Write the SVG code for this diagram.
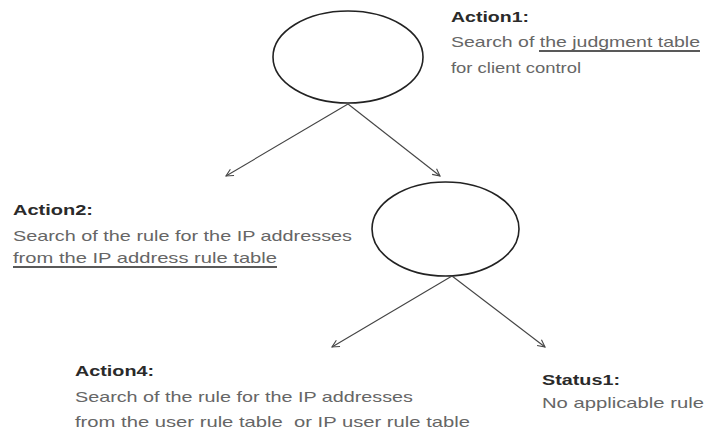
<svg xmlns="http://www.w3.org/2000/svg" width="712" height="432" viewBox="0 0 712 432">
<style>
.node{fill:none;stroke:#222;stroke-width:1.6}
.conn line{stroke:#444;stroke-width:1.1;fill:none}
.h{font-family:"Liberation Sans",Arial,sans-serif;font-weight:bold;font-size:14px;fill:#2a2a2a}
.b{font-family:"Liberation Sans",Arial,sans-serif;font-size:14.5px;fill:#666}
.ul{stroke:#222;stroke-width:1.3}
</style>
<defs>
<marker id="arr" viewBox="0 0 10 10" refX="9" refY="5" markerWidth="9" markerHeight="9" orient="auto" markerUnits="userSpaceOnUse">
<path d="M1,1 L9,5 L1,9" fill="none" stroke="#444" stroke-width="1.2"/>
</marker>
</defs>
<rect width="712" height="432" fill="#fff"/>
<g id="root">
<ellipse class="node" cx="348" cy="57" rx="75" ry="46"/>
</g>
<g id="mid">
<ellipse class="node" cx="445.5" cy="229" rx="73.5" ry="47"/>
</g>
<g class="conn" id="connectors">
<line x1="348" y1="104" x2="226" y2="176" marker-end="url(#arr)"/>
<line x1="348" y1="104" x2="440" y2="176" marker-end="url(#arr)"/>
<line x1="452" y1="276" x2="332" y2="347" marker-end="url(#arr)"/>
<line x1="452" y1="276" x2="545" y2="347" marker-end="url(#arr)"/>
</g>
<g id="action1">
<text class="h" x="451" y="22" textLength="78" lengthAdjust="spacingAndGlyphs">Action1:</text>
<text class="b" x="451" y="47" textLength="249" lengthAdjust="spacingAndGlyphs">Search of the judgment table</text>
<line class="ul" x1="539" y1="51" x2="700" y2="51"/>
<text class="b" x="451" y="73" textLength="130" lengthAdjust="spacingAndGlyphs">for client control</text>
</g>
<g id="action2">
<text class="h" x="13" y="215" textLength="80" lengthAdjust="spacingAndGlyphs">Action2:</text>
<text class="b" x="13" y="241" textLength="339" lengthAdjust="spacingAndGlyphs">Search of the rule for the IP addresses</text>
<text class="b" x="13" y="263" textLength="264" lengthAdjust="spacingAndGlyphs">from the IP address rule table</text>
<line class="ul" x1="13" y1="267" x2="277" y2="267"/>
</g>
<g id="action4">
<text class="h" x="75" y="376" textLength="79" lengthAdjust="spacingAndGlyphs">Action4:</text>
<text class="b" x="75" y="402" textLength="338" lengthAdjust="spacingAndGlyphs">Search of the rule for the IP addresses</text>
<text class="b" x="75" y="427" textLength="395" lengthAdjust="spacingAndGlyphs" xml:space="preserve">from the user rule table  or IP user rule table</text>
</g>
<g id="status1">
<text class="h" x="542" y="385" textLength="78" lengthAdjust="spacingAndGlyphs">Status1:</text>
<text class="b" x="542" y="408" textLength="162" lengthAdjust="spacingAndGlyphs">No applicable rule</text>
</g>
</svg>
